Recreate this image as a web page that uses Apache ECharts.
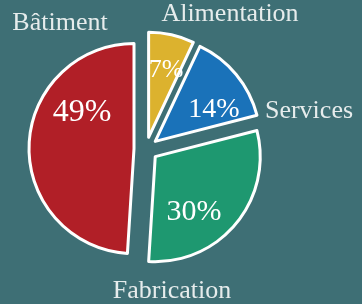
<!DOCTYPE html>
<html>
<head>
<meta charset="utf-8">
<script src="https://cdn.jsdelivr.net/npm/echarts@6/dist/echarts.min.js"></script>
<style>
html,body{margin:0;padding:0;background:#3e6f75;}
#c{width:362px;height:304px;}
</style>
</head>
<body>
<div id="c"></div>
<script>
// Data (clockwise from the top)
const categories = ['Alimentation', 'Services', 'Fabrication', 'Bâtiment'];
const shares = [7, 14, 30, 49];           // percent
const colors = ['#dcb22e', '#1a72b9', '#1e9870', '#b11f27'];

// label styling/placement (not data)
const nameLabelPos = [[230, 14], [309, 111], [172, 291], [60, 23]];
const pctLabelPos = [[166, 70], [214, 110], [194, 212], [82, 113]];
const pctFontSize = [26, 28, 30, 32];

const chart = echarts.init(document.getElementById('c'), null, {renderer: 'canvas'});

const center = [146, 149];
const radius = 105;

const baseSeries = {
  type: 'pie',
  center: center,
  radius: radius,
  startAngle: 90,
  clockwise: true,
  silent: true,
  emphasis: {disabled: true},
  labelLine: {show: false}
};

function labelSeries(formatter, positions, style, perItemSize) {
  return Object.assign({}, baseSeries, {
    itemStyle: {color: 'rgba(0,0,0,0)', borderWidth: 0},
    label: Object.assign({
      show: true,
      position: 'outside',
      formatter: formatter,
      fontFamily: 'Liberation Serif',
      overflow: 'none'
    }, style),
    labelLayout: p => ({
      x: positions[p.dataIndex][0],
      y: positions[p.dataIndex][1],
      align: 'center',
      verticalAlign: 'middle'
    }),
    data: categories.map((n, i) => ({
      name: n,
      value: shares[i],
      label: perItemSize ? {fontSize: perItemSize[i]} : undefined
    }))
  });
}

chart.setOption({
  backgroundColor: '#3e6f75',
  animation: false,
  series: [
    Object.assign({}, baseSeries, {
      selectedMode: 'multiple',
      selectedOffset: 12,
      itemStyle: {borderColor: '#ffffff', borderWidth: 3, borderJoin: 'round'},
      select: {itemStyle: {borderColor: '#ffffff', borderWidth: 3}},
      label: {show: false},
      data: categories.map((n, i) => ({
        name: n,
        value: shares[i],
        selected: true,
        itemStyle: {color: colors[i]}
      }))
    }),
    labelSeries(p => p.value + '%', pctLabelPos, {color: '#ffffff', fontSize: 30}, pctFontSize),
    labelSeries('{b}', nameLabelPos, {color: '#e6ecec', fontSize: 26})
  ]
});
</script>
</body>
</html>
